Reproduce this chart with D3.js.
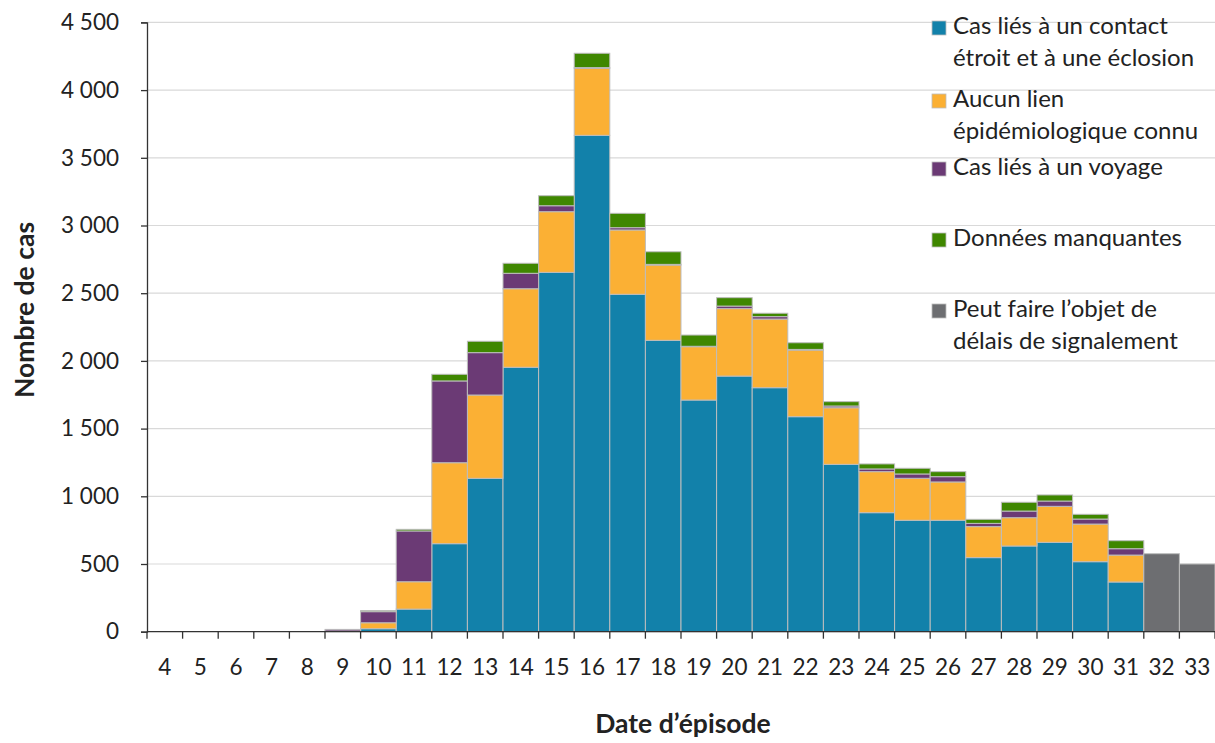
<!DOCTYPE html>
<html>
<head>
<meta charset="utf-8">
<script src="https://cdn.jsdelivr.net/npm/d3@7"></script>
<style>
  body { margin: 0; background: #fff; }
  text { font-family: Lato, "Noto Sans", sans-serif; fill: #222; }
</style>
</head>
<body>
<div id="chart"></div>
<script>
var svgWidth = 1215;
var svgHeight = 743;

// week of episode date
var weeks = [4, 5, 6, 7, 8, 9, 10, 11, 12, 13, 14, 15, 16, 17, 18, 19, 20, 21, 22, 23, 24, 25, 26, 27, 28, 29, 30, 31, 32, 33];

// case counts per series
var contact = [0, 0, 0, 0, 0, 2, 22, 167, 650, 1133, 1953, 2654, 3666, 2492, 2152, 1711, 1888, 1802, 1588, 1236, 879, 823, 823, 547, 633, 660, 517, 367, 0, 0];
var noLink = [0, 0, 0, 0, 0, 3, 44, 202, 598, 615, 580, 448, 495, 475, 556, 394, 498, 507, 492, 418, 303, 310, 283, 229, 209, 266, 278, 199, 0, 0];
var travel = [0, 0, 0, 0, 0, 12, 82, 375, 604, 313, 114, 44, 5, 17, 5, 3, 19, 18, 5, 13, 20, 32, 39, 24, 49, 39, 37, 47, 0, 0];
var missing = [0, 0, 0, 0, 0, 0, 8, 12, 49, 84, 74, 74, 106, 106, 93, 83, 62, 25, 49, 32, 37, 42, 37, 30, 65, 45, 35, 59, 0, 0];
var delayed = [0, 0, 0, 0, 0, 0, 0, 0, 0, 0, 0, 0, 0, 0, 0, 0, 0, 0, 0, 0, 0, 0, 0, 0, 0, 0, 0, 0, 576, 500];

var yTicks = [0, 500, 1000, 1500, 2000, 2500, 3000, 3500, 4000, 4500];

var keys = ["contact", "noLink", "travel", "missing", "delayed"];
var colors = ["#1281aa", "#fbb034", "#6b3a75", "#3f8700", "#6d6e71"];
var legendLabels = [
  ["Cas liés à un contact", "étroit et à une éclosion"],
  ["Aucun lien", "épidémiologique connu"],
  ["Cas liés à un voyage"],
  ["Données manquantes"],
  ["Peut faire l\u2019objet de", "délais de signalement"]
];

var margin = { top: 22.4, right: 0, bottom: 111.3, left: 147 };
var width = svgWidth - margin.left - margin.right;
var height = svgHeight - margin.top - margin.bottom;

var svg = d3.select("#chart")
  .append("svg")
  .attr("width", svgWidth)
  .attr("height", svgHeight);

var chartGroup = svg.append("g")
  .attr("transform", `translate(${margin.left}, ${margin.top})`);

// build rows for the stack
var rows = weeks.map(function(w, i) {
  return { week: w, contact: contact[i], noLink: noLink[i], travel: travel[i], missing: missing[i], delayed: delayed[i] };
});

var stacked = d3.stack().keys(keys)(rows);

var xScale = d3.scaleBand()
  .domain(weeks)
  .range([0, width])
  .padding(0);

var yScale = d3.scaleLinear()
  .domain([0, 4500])
  .range([height, 0]);

var fmt = d3.formatLocale({ decimal: ",", thousands: "\u00a0", grouping: [3], currency: ["", ""] }).format(",d");

// gridlines
chartGroup.append("g")
  .selectAll("line")
  .data(yTicks.slice(1))
  .enter()
  .append("line")
  .attr("x1", 0)
  .attr("x2", width)
  .attr("y1", d => yScale(d))
  .attr("y2", d => yScale(d))
  .attr("stroke", "#d9d9d9")
  .attr("stroke-width", 1.2);

// stacked bars
var layers = chartGroup.selectAll(".layer")
  .data(stacked)
  .enter()
  .append("g")
  .attr("class", "layer")
  .attr("fill", (d, i) => colors[i]);

layers.selectAll("rect")
  .data(d => d.filter(p => p[1] - p[0] > 0))
  .enter()
  .append("rect")
  .attr("x", d => xScale(d.data.week))
  .attr("y", d => yScale(d[1]))
  .attr("width", xScale.bandwidth())
  .attr("height", d => yScale(d[0]) - yScale(d[1]))
  .attr("stroke", "#bdbdbd")
  .attr("stroke-width", 1);

// y axis
var leftAxis = d3.axisLeft(yScale)
  .tickValues(yTicks)
  .tickFormat(fmt)
  .tickSize(6)
  .tickPadding(22);

var yAxis = chartGroup.append("g")
  .call(leftAxis);
yAxis.select(".domain").attr("stroke", "#333").attr("stroke-width", 1.3);
yAxis.selectAll(".tick line").attr("stroke", "#333").attr("stroke-width", 1.3);
yAxis.selectAll("text")
  .attr("font-size", "22.5px")
  .attr("font-family", "Lato, sans-serif")
  .attr("fill", "#333");

// x axis: ticks sit between the bars
var xAxis = chartGroup.append("g")
  .attr("transform", `translate(0, ${height})`);

xAxis.append("line")
  .attr("x1", 0)
  .attr("x2", width)
  .attr("stroke", "#333")
  .attr("stroke-width", 1.3);

xAxis.selectAll(".sep")
  .data(weeks.concat([null]))
  .enter()
  .append("line")
  .attr("class", "sep")
  .attr("x1", (d, i) => i < weeks.length ? xScale(d) : width)
  .attr("x2", (d, i) => i < weeks.length ? xScale(d) : width)
  .attr("y1", 0)
  .attr("y2", 7)
  .attr("stroke", "#333")
  .attr("stroke-width", 1.3);

xAxis.selectAll(".lbl")
  .data(weeks)
  .enter()
  .append("text")
  .attr("class", "lbl")
  .attr("x", d => xScale(d) + xScale.bandwidth() / 2)
  .attr("y", 35)
  .attr("dy", "0.35em")
  .attr("text-anchor", "middle")
  .attr("font-size", "22.5px")
  .text(d => d);

// axis titles
svg.append("text")
  .attr("transform", "rotate(-90)")
  .attr("x", -310)
  .attr("y", 25)
  .attr("dy", "0.35em")
  .attr("text-anchor", "middle")
  .attr("font-size", "26.5px")
  .attr("font-weight", "bold")
  .attr("fill", "#111")
  .text("Nombre de cas");

svg.append("text")
  .attr("x", 683)
  .attr("y", 724)
  .attr("dy", "0.35em")
  .attr("text-anchor", "middle")
  .attr("font-size", "26.5px")
  .attr("font-weight", "bold")
  .attr("fill", "#111")
  .text("Date d\u2019épisode");

// legend
var legendTops = [21, 94, 162, 233, 304];
var legend = svg.append("g");

legendLabels.forEach(function(lines, i) {
  var g = legend.append("g")
    .attr("transform", `translate(932, ${legendTops[i]})`);
  g.append("rect")
    .attr("width", 14)
    .attr("height", 14)
    .attr("fill", colors[i])
    .attr("stroke", "#bdbdbd")
    .attr("stroke-width", 0.8);
  lines.forEach(function(line, j) {
    g.append("text")
      .attr("x", 21)
      .attr("y", 5 + j * 32)
      .attr("dy", "0.35em")
      .attr("font-size", "24px")
      .attr("fill", "#222")
      .text(line);
  });
});
</script>
</body>
</html>
